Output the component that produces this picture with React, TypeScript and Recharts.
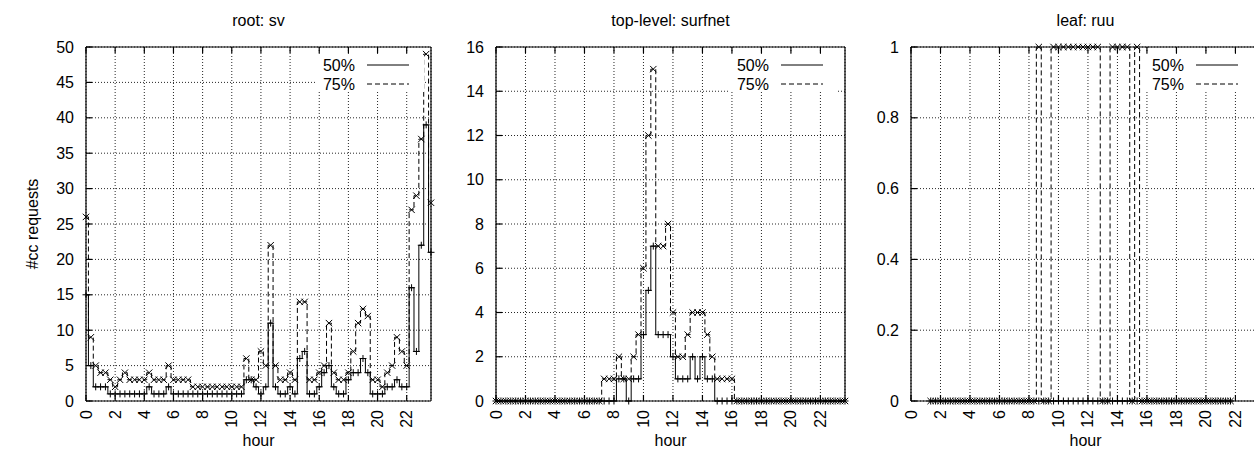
import React from 'react';
import { LineChart, Line, XAxis, YAxis, CartesianGrid } from 'recharts';

// time of day in minutes (20-minute bins)
const minutes = [0,20,40,60,80,100,120,140,160,180,200,220,240,260,280,300,320,340,360,380,400,420,440,460,480,500,520,540,560,580,600,620,640,660,680,700,720,740,760,780,800,820,840,860,880,900,920,940,960,980,1000,1020,1040,1060,1080,1100,1120,1140,1160,1180,1200,1220,1240,1260,1280,1300,1320,1340,1360,1380,1400,1420];
const xTicks = [0,120,240,360,480,600,720,840,960,1080,1200,1320];
const xTickLabels = ['0','2','4','6','8','10','12','14','16','18','20','22'];

// root: sv
const rootMedian = [15,5,2,2,2,1,1,1,1,1,1,1,1,2,1,1,1,2,1,1,1,1,1,1,1,1,1,1,1,1,1,1,1,3,3,2,1,2,11,2,1,1,2,1,6,7,1,1,2,4,5,2,1,1,3,4,4,6,4,1,1,1,2,2,3,2,2,16,7,22,39,21];
const rootUpper = [26,9,5,4,4,3,2,3,4,3,3,3,3,4,3,3,3,5,3,3,3,3,2,2,2,2,2,2,2,2,2,2,2,6,3,3,7,5,22,5,3,3,4,3,14,14,3,3,4,5,11,4,3,3,4,7,11,13,12,3,3,2,4,5,9,7,5,27,29,37,49,28];
const rootYTicks = [0,5,10,15,20,25,30,35,40,45,50];

// top-level: surfnet
const tldMedian = [0,0,0,0,0,0,0,0,0,0,0,0,0,0,0,0,0,0,0,0,0,0,0,0,0,1,1,0,1,1,3,5,7,3,3,3,2,1,1,1,2,1,2,1,1,0,0,0,0,0,0,0,0,0,0,0,0,0,0,0,0,0,0,0,0,0,0,0,0,0,0,0];
const tldUpper = [0,0,0,0,0,0,0,0,0,0,0,0,0,0,0,0,0,0,0,0,0,0,1,1,1,2,1,1,2,3,6,12,15,7,7,8,4,2,2,3,4,4,4,3,2,1,1,1,1,0,0,0,0,0,0,0,0,0,0,0,0,0,0,0,0,0,0,0,0,0,0,0];
const tldYTicks = [0,2,4,6,8,10,12,14,16];

// leaf: ruu
const leafMedian = [null,null,null,null,0,0,0,0,0,0,0,0,0,0,0,0,0,0,0,0,0,0,0,0,0,0,0,0,0,0,0,0,0,0,0,0,0,0,0,0,0,0,0,0,0,0,0,0,0,0,0,0,0,0,0,0,0,0,0,0,0,0,0,0,0,0,null,null,null,null,null,null];
const leafUpper = [null,null,null,null,0,0,0,0,0,0,0,0,0,0,0,0,0,0,0,0,0,0,0,0,0,0,1,0,0,1,1,1,1,1,1,1,1,1,1,0,0,1,1,1,1,0,1,0,0,0,0,0,0,0,0,0,0,0,0,0,0,0,0,0,0,0,null,null,null,null,null,null];
const leafYTicks = [0,0.2,0.4,0.6,0.8,1];

const seriesNames = ['50%', '75%'];

const FONT = '"Liberation Sans", Arial, Helvetica, sans-serif';
const W = 1254;
const H = 449;
const PLOT_TOP = 47;
const PLOT_BOTTOM = 401;

type Panel = {
  title: string;
  median: (number | null)[];
  upper: (number | null)[];
  yTicks: number[];
  chartLeft: number;
  chartWidth: number;
  plotLeft: number;
  plotRight: number;
};

const panels: Panel[] = [
  { title: 'root: sv', median: rootMedian, upper: rootUpper, yTicks: rootYTicks, chartLeft: 0, chartWidth: 440, plotLeft: 86, plotRight: 431 },
  { title: 'top-level: surfnet', median: tldMedian, upper: tldUpper, yTicks: tldYTicks, chartLeft: 440, chartWidth: 410, plotLeft: 496, plotRight: 845 },
  { title: 'leaf: ruu', median: leafMedian, upper: leafUpper, yTicks: leafYTicks, chartLeft: 850, chartWidth: 415, plotLeft: 911, plotRight: 1260 },
];

const plusDot = (props: any) => {
  const { cx, cy, index, value } = props;
  if (cx == null || cy == null || value == null) return <g key={`p-${index}`} />;
  const s = 3.5;
  return (
    <path key={`p-${index}`} d={`M${cx - s},${cy}H${cx + s}M${cx},${cy - s}V${cy + s}`} stroke="#000" strokeWidth={1} fill="none" />
  );
};

const crossDot = (props: any) => {
  const { cx, cy, index, value } = props;
  if (cx == null || cy == null || value == null) return <g key={`x-${index}`} />;
  const s = 3.2;
  return (
    <path key={`x-${index}`} d={`M${cx - s},${cy - s}L${cx + s},${cy + s}M${cx - s},${cy + s}L${cx + s},${cy - s}`} stroke="#000" strokeWidth={1} fill="none" />
  );
};

const XTick = (props: any) => {
  const { x, y, payload } = props;
  const idx = xTicks.indexOf(payload.value);
  const label = idx >= 0 ? xTickLabels[idx] : '';
  return (
    <text x={0} y={0} transform={`translate(${x},${y}) rotate(-90)`} textAnchor="end" dominantBaseline="central" fontSize={16} fontFamily={FONT} fill="#000">
      {label}
    </text>
  );
};

const YTick = (props: any) => {
  const { x, y, payload } = props;
  return (
    <text x={x} y={y} textAnchor="end" dominantBaseline="central" fontSize={16} fontFamily={FONT} fill="#000">
      {String(payload.value)}
    </text>
  );
};

const NoLabel = () => <g />;

function PanelChart({ p }: { p: Panel }) {
  const rows = minutes.map((m, i) => ({ m, med: p.median[i], up: p.upper[i] }));
  const yAxisWidth = 40;
  const xAxisHeight = 30;
  const localPlotLeft = p.plotLeft - p.chartLeft;
  const localPlotRight = p.plotRight - p.chartLeft;
  const yMax = p.yTicks[p.yTicks.length - 1];
  const axisStyle = { stroke: '#000', strokeWidth: 1.2 };
  return (
    <div style={{ position: 'absolute', left: p.chartLeft, top: 0, width: p.chartWidth, height: H }}>
      <LineChart
        width={p.chartWidth}
        height={H}
        data={rows}
        margin={{ top: PLOT_TOP - 1, right: p.chartWidth - localPlotRight - 1, bottom: H - PLOT_BOTTOM - xAxisHeight, left: localPlotLeft - yAxisWidth }}
      >
        <CartesianGrid xAxisId="b" yAxisId="l" stroke="#000" strokeDasharray="1 2" strokeWidth={1} strokeOpacity={0.85} />
        <XAxis
          xAxisId="b"
          dataKey="m"
          type="number"
          domain={[0, 1420]}
          ticks={xTicks}
          height={xAxisHeight}
          tickSize={-6}
          tickMargin={15}
          tick={<XTick />}
          axisLine={axisStyle}
          tickLine={axisStyle}
          interval={0}
        />
        <XAxis
          xAxisId="t"
          orientation="top"
          dataKey="m"
          type="number"
          domain={[0, 1420]}
          ticks={xTicks}
          height={1}
          tickSize={-6}
          tick={<NoLabel />}
          axisLine={axisStyle}
          tickLine={axisStyle}
          interval={0}
        />
        <YAxis
          yAxisId="l"
          type="number"
          domain={[0, yMax]}
          ticks={p.yTicks}
          width={yAxisWidth}
          tickSize={-6}
          tickMargin={18}
          tick={<YTick />}
          axisLine={axisStyle}
          tickLine={axisStyle}
          interval={0}
        />
        <YAxis
          yAxisId="r"
          orientation="right"
          type="number"
          domain={[0, yMax]}
          ticks={p.yTicks}
          width={1}
          tickSize={-6}
          tick={<NoLabel />}
          axisLine={axisStyle}
          tickLine={axisStyle}
          interval={0}
        />
        <Line
          xAxisId="b"
          yAxisId="l"
          type="step"
          dataKey="med"
          name={seriesNames[0]}
          stroke="#000"
          strokeWidth={1}
          dot={plusDot}
          activeDot={false}
          connectNulls={false}
          isAnimationActive={false}
        />
        <Line
          xAxisId="b"
          yAxisId="l"
          type="step"
          dataKey="up"
          name={seriesNames[1]}
          stroke="#000"
          strokeWidth={1}
          strokeDasharray="5 3"
          dot={crossDot}
          activeDot={false}
          connectNulls={false}
          isAnimationActive={false}
        />
      </LineChart>
    </div>
  );
}

function Overlay() {
  return (
    <svg width={W} height={H} style={{ position: 'absolute', left: 0, top: 0, pointerEvents: 'none' }}>
      {panels.map((p) => {
        const cx = (p.plotLeft + p.plotRight) / 2;
        const R = p.plotRight;
        return (
          <g key={p.title}>
            <text x={cx} y={26} textAnchor="middle" fontSize={16} fontFamily={FONT} fill="#000">{p.title}</text>
            <text x={cx} y={446} textAnchor="middle" fontSize={16} fontFamily={FONT} fill="#000">hour</text>
            <rect x={R - 115} y={55} width={108} height={37} fill="#fff" />
            <text x={R - 76} y={65} textAnchor="end" dominantBaseline="central" fontSize={16} fontFamily={FONT} fill="#000">{seriesNames[0]}</text>
            <line x1={R - 64} x2={R - 22} y1={65} y2={65} stroke="#000" strokeWidth={1} />
            <text x={R - 76} y={84} textAnchor="end" dominantBaseline="central" fontSize={16} fontFamily={FONT} fill="#000">{seriesNames[1]}</text>
            <line x1={R - 64} x2={R - 22} y1={84} y2={84} stroke="#000" strokeWidth={1} strokeDasharray="5 3" />
          </g>
        );
      })}
      <text x={0} y={0} transform="translate(32,224) rotate(-90)" textAnchor="middle" dominantBaseline="central" fontSize={16} fontFamily={FONT} fill="#000">#cc requests</text>
    </svg>
  );
}

export default function App() {
  return (
    <div style={{ position: 'absolute', left: 0, top: 0, width: W, height: H, overflow: 'hidden', background: '#fff' }}>
      {panels.map((p) => (
        <PanelChart key={p.title} p={p} />
      ))}
      <Overlay />
    </div>
  );
}
